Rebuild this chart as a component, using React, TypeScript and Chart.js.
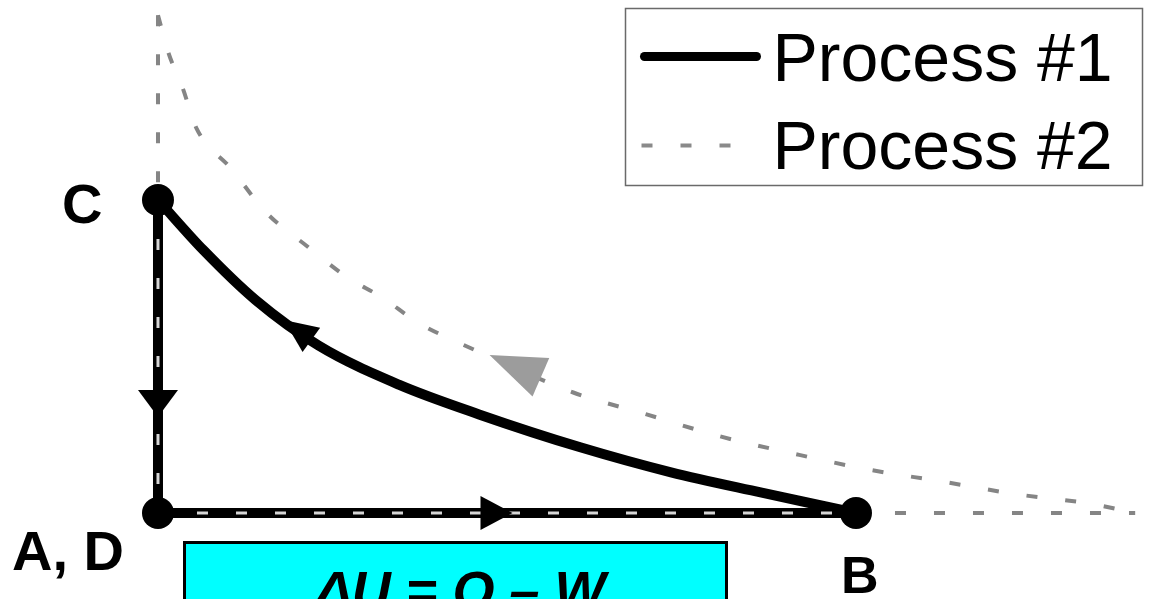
import { useEffect, useRef } from 'react';
import { Chart, registerables } from 'chart.js';

Chart.register(...registerables);

const FONT = '"Liberation Sans", Arial, Helvetica, sans-serif';

// ---- Data (V in arbitrary volume units, P in arbitrary pressure units) ----
const stateLabels = ['A, D', 'B', 'C'];
const stateV = [1.0, 3.0, 1.0];
const stateP = [1.0, 1.0, 3.0];

// Process #1 (solid): A -> B (isobaric), B -> C (curve), C -> D (isochoric)
const processOneIsobarV = [1.0, 3.0];
const processOneIsobarP = [1.0, 1.0];
const processOneCurveV = [1.0, 1.13, 1.28, 1.46, 1.69, 1.92, 2.21, 2.47, 2.73, 3.0];
const processOneCurveP = [3.0, 2.68, 2.36, 2.07, 1.82, 1.63, 1.42, 1.26, 1.13, 1.0];
const processOneIsochoricV = [1.0, 1.0];
const processOneIsochoricP = [3.0, 1.0];

// Process #2 (dashed)
const processTwoIsobarV = [1.0, 3.0, 3.8];
const processTwoIsobarP = [1.0, 1.0, 1.0];
const processTwoCurveV = [1.0, 1.03, 1.07, 1.11, 1.21, 1.31, 1.43, 1.54, 1.64, 1.75, 1.86, 1.96, 2.19, 2.4, 2.61, 2.82, 3.03, 3.25, 3.46, 3.67, 3.8];
const processTwoCurveP = [4.18, 3.94, 3.72, 3.46, 3.2, 2.92, 2.7, 2.51, 2.38, 2.21, 2.09, 1.99, 1.77, 1.63, 1.49, 1.38, 1.28, 1.2, 1.12, 1.06, 1.0];
const processTwoIsochoricV = [1.0, 1.0, 1.0];
const processTwoIsochoricP = [4.18, 3.0, 1.0];

const legendLabels = ['Process #1', 'Process #2'];
const equationText = 'ΔU = Q – W';

const xRange = [0.5473, 3.8482];
const yRange = [0.4505, 4.278];

const toXY = (v: number[], p: number[]) => v.map((x, i) => ({ x, y: p[i] }));

const overlayPlugin = {
  id: 'pvOverlay',
  afterDatasetsDraw(chart: any, _args: any, opts: any) {
    const ctx = chart.ctx;
    const xs = chart.scales.x;
    const ys = chart.scales.y;
    for (const a of opts.arrows) {
      const px = xs.getPixelForValue(a.at[0]);
      const py = ys.getPixelForValue(a.at[1]);
      const fx = xs.getPixelForValue(a.from[0]);
      const fy = ys.getPixelForValue(a.from[1]);
      const tx = xs.getPixelForValue(a.to[0]);
      const ty = ys.getPixelForValue(a.to[1]);
      const ang = Math.atan2(ty - fy, tx - fx);
      ctx.save();
      ctx.translate(px, py);
      ctx.rotate(ang);
      ctx.beginPath();
      if (a.anchor === 'tip') {
        ctx.moveTo(0, 0);
        ctx.lineTo(-a.len, -a.width / 2);
        ctx.lineTo(-a.len, a.width / 2);
      } else {
        ctx.moveTo(a.len / 2, 0);
        ctx.lineTo(-a.len / 2, -a.width / 2);
        ctx.lineTo(-a.len / 2, a.width / 2);
      }
      ctx.closePath();
      ctx.fillStyle = a.color;
      ctx.fill();
      ctx.restore();
    }
  },
  afterDraw(chart: any, _args: any, opts: any) {
    const ctx = chart.ctx;
    const xs = chart.scales.x;
    const ys = chart.scales.y;
    ctx.save();
    // state labels
    ctx.fillStyle = '#000';
    ctx.textAlign = 'left';
    ctx.textBaseline = 'alphabetic';
    stateLabels.forEach((lab, i) => {
      const px = xs.getPixelForValue(stateV[i]);
      const py = ys.getPixelForValue(stateP[i]);
      const o = opts.labelOffsets[i];
      ctx.font = `bold ${o.size}px ${FONT}`;
      ctx.fillText(lab, px + o.dx, py + o.dy);
    });

    // legend
    const lg = opts.legend;
    ctx.strokeStyle = '#6a6a6a';
    ctx.lineWidth = 1.5;
    ctx.strokeRect(lg.x, lg.y, lg.w, lg.h);
    // row 1
    ctx.beginPath();
    ctx.lineCap = 'round';
    ctx.strokeStyle = '#000';
    ctx.lineWidth = 9;
    ctx.moveTo(lg.x + 19, lg.y + 48);
    ctx.lineTo(lg.x + 131, lg.y + 48);
    ctx.stroke();
    // row 2
    ctx.beginPath();
    ctx.lineCap = 'butt';
    ctx.strokeStyle = '#8a8a8a';
    ctx.lineWidth = 4;
    ctx.setLineDash([11, 28]);
    ctx.moveTo(lg.x + 16, lg.y + 137);
    ctx.lineTo(lg.x + 112, lg.y + 137);
    ctx.stroke();
    ctx.setLineDash([]);
    ctx.fillStyle = '#000';
    ctx.font = `68px ${FONT}`;
    ctx.fillText(legendLabels[0], lg.x + 147, lg.y + 72);
    ctx.fillText(legendLabels[1], lg.x + 147, lg.y + 160);

    // equation box
    const eb = opts.equationBox;
    ctx.fillStyle = '#00ffff';
    ctx.fillRect(eb.x, eb.y, eb.w, eb.h);
    ctx.strokeStyle = '#000';
    ctx.lineWidth = 3;
    ctx.strokeRect(eb.x, eb.y, eb.w, eb.h);
    ctx.fillStyle = '#000';
    ctx.font = `italic bold 54px ${FONT}`;
    ctx.textAlign = 'center';
    ctx.fillText(equationText, eb.x + eb.w / 2 + 5, eb.y + 66);
    ctx.restore();
  },
};

export default function App() {
  const ref = useRef<HTMLCanvasElement | null>(null);

  useEffect(() => {
    if (!ref.current) return;
    const light = '#d6d6d6';
    const gray = '#858585';
    const chart = new Chart(ref.current, {
      type: 'line',
      data: {
        datasets: [
          {
            label: legendLabels[1],
            data: toXY(processTwoCurveV, processTwoCurveP),
            borderColor: gray,
            borderWidth: 4,
            borderDash: [11, 28],
            pointRadius: 0,
            cubicInterpolationMode: 'monotone',
            order: 1,
          },
          {
            label: '',
            data: toXY(processTwoIsobarV, processTwoIsobarP),
            borderColor: gray,
            borderWidth: 4,
            borderDash: [11, 28],
            pointRadius: 0,
            segment: {
              borderColor: (c: any) => (c.p0DataIndex === 0 ? light : gray),
              borderWidth: (c: any) => (c.p0DataIndex === 0 ? 3 : 4),
            },
            order: 0,
          },
          {
            label: '',
            data: toXY(processTwoIsochoricV, processTwoIsochoricP),
            borderColor: gray,
            borderWidth: 4,
            borderDash: [11, 28],
            pointRadius: 0,
            segment: {
              borderColor: (c: any) => (c.p0DataIndex === 0 ? gray : light),
              borderWidth: (c: any) => (c.p0DataIndex === 0 ? 4 : 3),
            },
            order: 0,
          },
          {
            label: legendLabels[0],
            data: toXY(processOneIsobarV, processOneIsobarP),
            borderColor: '#000',
            borderWidth: 10,
            pointRadius: 0,
            order: 2,
          },
          {
            label: '',
            data: toXY(processOneCurveV, processOneCurveP),
            borderColor: '#000',
            borderWidth: 10,
            pointRadius: 0,
            cubicInterpolationMode: 'monotone',
            order: 2,
          },
          {
            label: '',
            data: toXY(processOneIsochoricV, processOneIsochoricP),
            borderColor: '#000',
            borderWidth: 10,
            pointRadius: 0,
            order: 2,
          },
          {
            label: '',
            data: toXY(stateV, stateP),
            showLine: false,
            pointRadius: 16,
            pointBackgroundColor: '#000',
            pointBorderColor: '#000',
            pointBorderWidth: 0,
            order: -1,
          },
        ],
      },
      options: {
        animation: false,
        responsive: false,
        events: [],
        layout: { padding: 0, autoPadding: false },
        scales: {
          x: { type: 'linear', min: xRange[0], max: xRange[1], display: false },
          y: { type: 'linear', min: yRange[0], max: yRange[1], display: false },
        },
        plugins: {
          legend: { display: false },
          tooltip: { enabled: false },
          pvOverlay: {
            arrows: [
              { at: [1.4, 2.17], from: [1.46, 2.07], to: [1.28, 2.36], len: 34, width: 30, color: '#000', anchor: 'center' },
              { at: [1.0, 1.7], from: [1.0, 3.0], to: [1.0, 1.0], len: 27, width: 40, color: '#000', anchor: 'center' },
              { at: [1.97, 1.0], from: [1.0, 1.0], to: [3.0, 1.0], len: 32, width: 34, color: '#000', anchor: 'center' },
              { at: [1.95, 2.01], from: [2.19, 1.77], to: [1.86, 2.09], len: 56, width: 42, color: '#9c9c9c', anchor: 'tip' },
            ],
            labelOffsets: [
              { dx: -146, dy: 57, size: 56 },
              { dx: -15, dy: 80, size: 52 },
              { dx: -96, dy: 23, size: 56 },
            ],
            legend: { x: 625.5, y: 8.5, w: 517, h: 177 },
            equationBox: { x: 184.5, y: 542.5, w: 542, h: 80 },
          },
        },
      },
      plugins: [overlayPlugin],
    } as any);
    return () => chart.destroy();
  }, []);

  return (
    <div style={{ position: 'absolute', left: 0, top: 0, width: 1152, height: 599, background: '#fff', overflow: 'hidden' }}>
      <canvas ref={ref} width={1152} height={599} style={{ display: 'block' }} />
    </div>
  );
}
